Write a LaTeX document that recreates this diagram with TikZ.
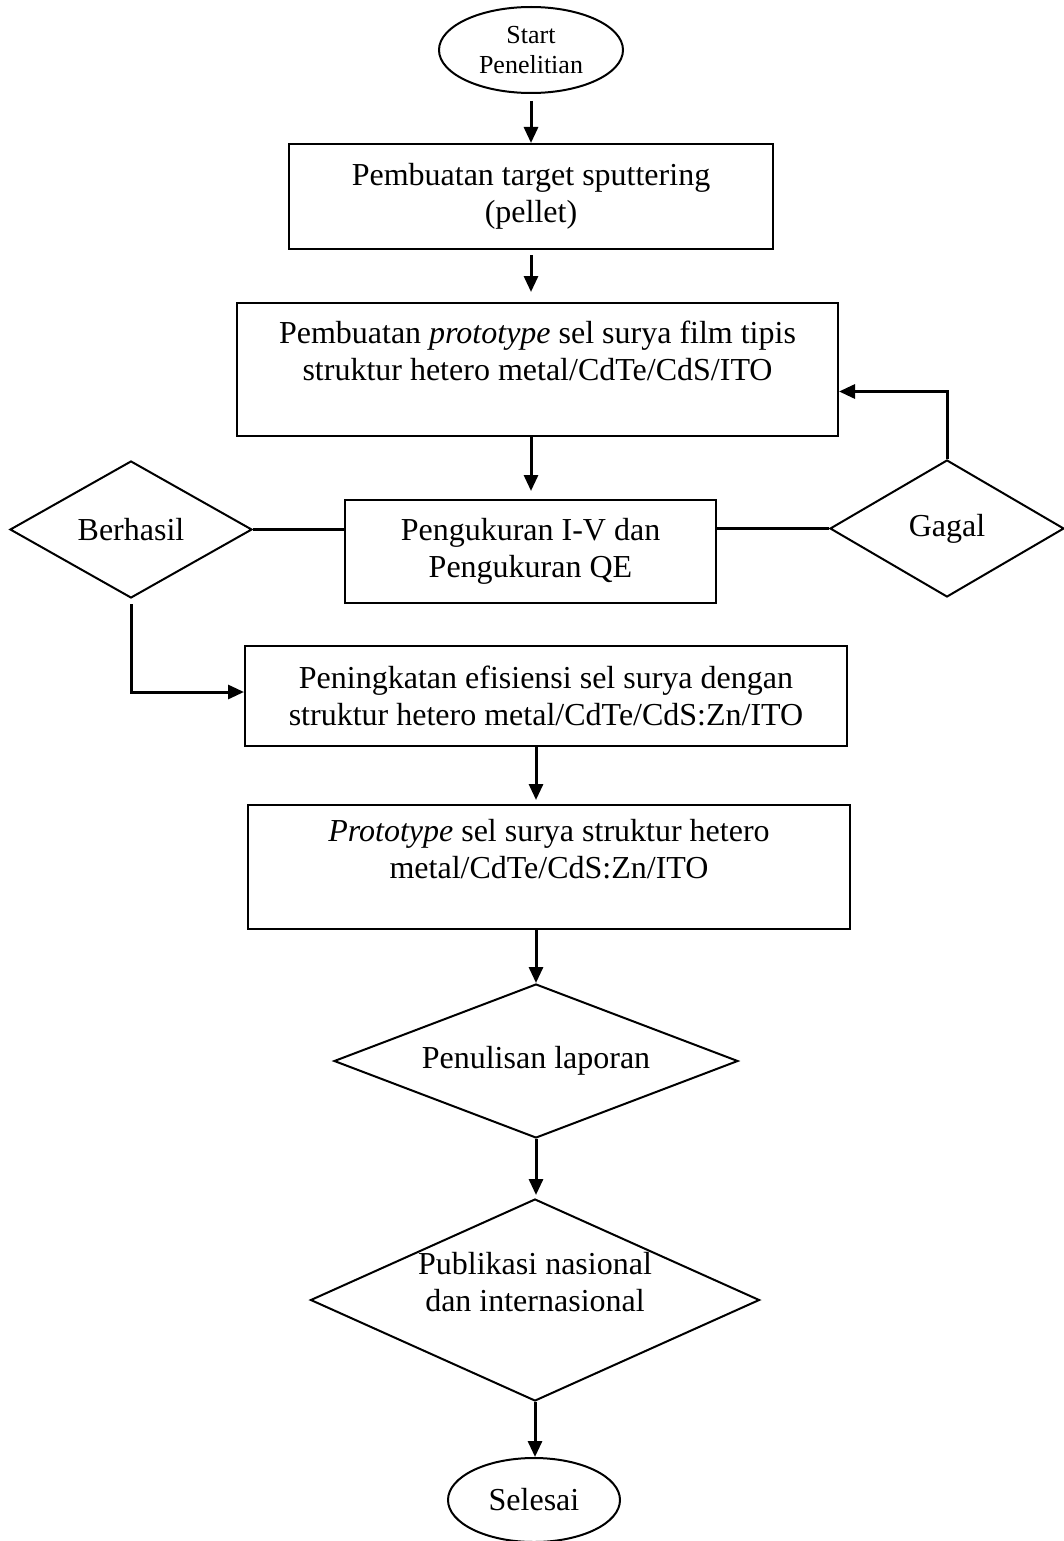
\documentclass[tikz,border=0pt]{standalone}
\usepackage{fontspec}
\setmainfont{Liberation Serif}
\usetikzlibrary{shapes.geometric,arrows.meta,calc}

\begin{document}
\begin{tikzpicture}[x=1pt,y=-1pt,
    box/.style={draw, line width=2pt, rectangle, inner sep=0pt, align=center, font=\fontsize{32}{37}\selectfont},
    decision/.style={draw, line width=2pt, diamond, inner sep=0pt, align=center, font=\fontsize{32}{37}\selectfont},
    terminal/.style={draw, line width=2pt, ellipse, inner sep=0pt, align=center},
    flowarrow/.style={line width=3pt, -{Triangle[length=16pt,width=14pt]}},
    flowline/.style={line width=3pt}]
        % Page frame
        \useasboundingbox (0,0) rectangle (1064,1541);

        % Start
        \node[terminal, minimum width=184pt, minimum height=86pt, font=\fontsize{26}{30}\selectfont] (start) at (531,50) {Start\\Penelitian};

        % Process boxes
        \node[box, minimum width=484pt, minimum height=105pt] (pellet) at (531,196.5) {Pembuatan target sputtering\\(pellet)};
        \node[box, minimum width=601pt, minimum height=133pt] (proto) at (537.5,369.5) {Pembuatan \textit{prototype} sel surya film tipis\\struktur hetero metal/CdTe/CdS/ITO\\~};
        \node[box, minimum width=371pt, minimum height=103pt] (ukur) at (530.5,551.5) {Pengukuran I-V dan\\Pengukuran QE};

        % Decisions beside the measurement
        \node[decision, aspect=1.77, minimum width=242pt, minimum height=137pt] (ok) at (131,529.5) {Berhasil};
        \node[decision, aspect=1.7, minimum width=234pt, minimum height=137pt] (fail) at (947,528.5) {Gagal};

        \node[box, minimum width=602pt, minimum height=100pt] (tingkat) at (546,696) {Peningkatan efisiensi sel surya dengan\\struktur hetero metal/CdTe/CdS:Zn/ITO};
        \node[box, minimum width=602pt, minimum height=124pt] (hasil) at (549,867) {\textit{Prototype} sel surya struktur hetero\\metal/CdTe/CdS:Zn/ITO\\~};

        % Report and publication
        \node[decision, aspect=2.62, minimum width=404pt, minimum height=154pt] (tulis) at (536,1061) {Penulisan laporan};
        \node[decision, aspect=2.22, minimum width=449pt, minimum height=202pt] (pub) at (535,1300) {};
        \node[align=center, font=\fontsize{32}{37}\selectfont] (pubtext) at (pub) {Publikasi nasional\\dan internasional\\~};

        % End
        \node[terminal, minimum width=172pt, minimum height=84pt, font=\fontsize{32}{37}\selectfont] (selesai) at (534,1500) {Selesai};

        % Connectors
        \draw[flowarrow, shorten <=7pt] (start.south) -- (pellet.north);
        \draw[flowarrow, shorten <=5pt, shorten >=10pt] (pellet.south) -- (proto.north -| pellet.south);
        \draw[flowarrow, shorten >=8pt] (proto.south -| pellet.south) -- (ukur.north -| pellet.south);
        \draw[flowline] (ok.east) -- (ok.east -| ukur.west);
        \draw[flowline] (ukur.east |- fail.west) -- (fail.west);
        \draw[flowarrow] (fail.north) |- ([yshift=-22pt]proto.east);
        \draw[flowarrow, shorten <=5pt] (ok.south) |- ([yshift=4pt]tingkat.west);
        \draw[flowarrow, shorten >=4pt] (tingkat.south -| tulis.north) -- (hasil.north -| tulis.north);
        \draw[flowarrow] (hasil.south -| tulis.north) -- (tulis.north);
        \draw[flowarrow, shorten >=3pt] (tulis.south) -- (tulis.south |- pub.north);
        \draw[flowarrow] (pub.south) -- (pub.south |- selesai.north);
    \end{tikzpicture}
\end{document}
